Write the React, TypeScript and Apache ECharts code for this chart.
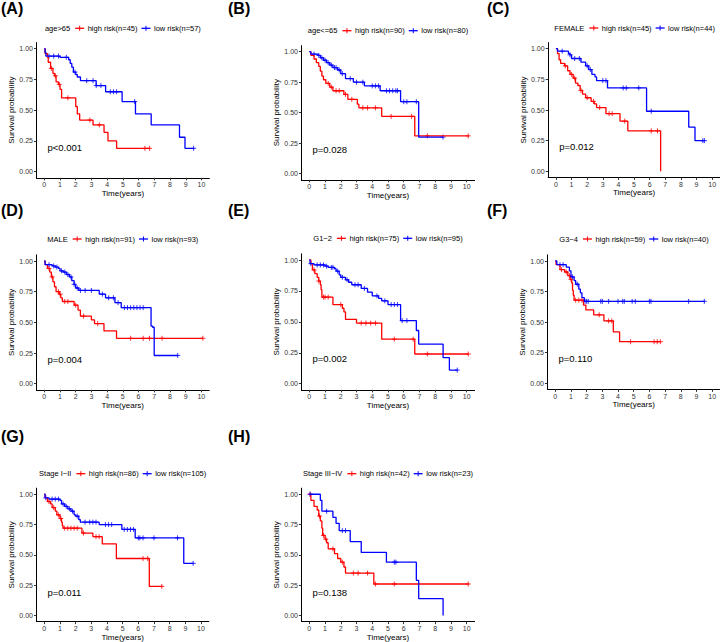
import React, { useEffect, useRef } from "react";
import * as echarts from "echarts";

type Step = [number, number];

// ---------- text ----------
const panelTags = ["(A)", "(B)", "(C)", "(D)", "(E)", "(F)", "(G)", "(H)"];
const groupTitles = ["age>65", "age<=65", "FEMALE", "MALE", "G1−2", "G3−4", "Stage I−II", "Stage III−IV"];
const highLabels = ["high risk(n=45)", "high risk(n=90)", "high risk(n=45)", "high risk(n=91)", "high risk(n=75)", "high risk(n=59)", "high risk(n=86)", "high risk(n=42)"];
const lowLabels = ["low risk(n=57)", "low risk(n=80)", "low risk(n=44)", "low risk(n=93)", "low risk(n=95)", "low risk(n=40)", "low risk(n=105)", "low risk(n=23)"];
const pValues = ["p<0.001", "p=0.028", "p=0.012", "p=0.004", "p=0.002", "p=0.110", "p=0.011", "p=0.138"];
const xTicks = [0, 1, 2, 3, 4, 5, 6, 7, 8, 9, 10];
const yTicks = [0, 0.25, 0.5, 0.75, 1];

// ---------- survival steps [time, survival after event] ----------
const A_high: Step[] = [[0, 1], [0.05, 0.96], [0.2, 0.93], [0.25, 0.89], [0.4, 0.84], [0.55, 0.8], [0.65, 0.78], [0.75, 0.73], [0.9, 0.71], [1.0, 0.67], [1.1, 0.6], [2.0, 0.53], [2.1, 0.47], [2.25, 0.42], [3.1, 0.38], [3.8, 0.32], [4.05, 0.25], [4.6, 0.19]];
const A_low: Step[] = [[0, 1], [0.05, 0.97], [0.1, 0.94], [1.0, 0.93], [1.55, 0.91], [1.65, 0.88], [1.75, 0.85], [1.85, 0.81], [2.0, 0.79], [2.1, 0.77], [2.3, 0.74], [3.3, 0.7], [3.9, 0.65], [4.95, 0.57], [5.8, 0.47], [6.8, 0.38], [8.6, 0.28], [8.95, 0.19]];
const B_high: Step[] = [[0, 1], [0.1, 0.97], [0.3, 0.94], [0.45, 0.91], [0.6, 0.88], [0.7, 0.84], [0.8, 0.8], [0.9, 0.77], [1.05, 0.74], [1.3, 0.71], [1.5, 0.68], [2.2, 0.65], [2.45, 0.61], [3.05, 0.57], [3.15, 0.54], [4.6, 0.47], [6.7, 0.31]];
const B_low: Step[] = [[0, 1], [0.1, 0.98], [0.55, 0.97], [0.7, 0.95], [0.9, 0.93], [1.1, 0.91], [1.3, 0.89], [1.5, 0.87], [1.8, 0.85], [2.0, 0.82], [2.3, 0.78], [2.8, 0.75], [3.5, 0.72], [4.5, 0.68], [5.8, 0.59], [6.95, 0.3]];
const C_high: Step[] = [[0, 1], [0.1, 0.96], [0.2, 0.91], [0.3, 0.88], [0.55, 0.86], [0.75, 0.82], [0.9, 0.79], [1.1, 0.76], [1.25, 0.72], [1.4, 0.7], [1.55, 0.66], [1.7, 0.63], [1.9, 0.6], [2.25, 0.57], [2.45, 0.55], [2.6, 0.52], [3.2, 0.47], [4.1, 0.41], [4.6, 0.33], [6.7, 0]];
const C_low: Step[] = [[0, 1], [0.1, 0.98], [0.8, 0.96], [0.9, 0.95], [1.0, 0.92], [1.6, 0.89], [1.9, 0.86], [2.1, 0.83], [2.3, 0.79], [2.5, 0.77], [2.6, 0.74], [3.3, 0.68], [5.8, 0.49], [8.5, 0.36], [8.9, 0.25]];
const D_high: Step[] = [[0, 1], [0.05, 0.97], [0.2, 0.94], [0.35, 0.91], [0.45, 0.87], [0.55, 0.83], [0.65, 0.79], [0.75, 0.75], [0.95, 0.73], [1.05, 0.7], [1.15, 0.67], [1.9, 0.64], [2.15, 0.6], [2.3, 0.55], [3.0, 0.52], [3.2, 0.49], [3.8, 0.43], [4.6, 0.37]];
const D_low: Step[] = [[0, 1], [0.05, 0.97], [0.5, 0.96], [0.7, 0.95], [0.9, 0.94], [1.0, 0.92], [1.2, 0.91], [1.4, 0.89], [1.6, 0.87], [1.75, 0.84], [1.9, 0.81], [2.0, 0.78], [2.2, 0.76], [3.5, 0.73], [3.9, 0.7], [4.5, 0.66], [4.9, 0.62], [6.8, 0.47], [6.9, 0.46], [7.0, 0.23]];
const E_high: Step[] = [[0, 1], [0.1, 0.97], [0.2, 0.92], [0.35, 0.89], [0.5, 0.86], [0.6, 0.83], [0.7, 0.8], [0.75, 0.76], [0.8, 0.7], [1.5, 0.64], [2.1, 0.61], [2.2, 0.58], [2.3, 0.52], [3.0, 0.49], [4.6, 0.36], [6.7, 0.24]];
const E_low: Step[] = [[0, 1], [0.05, 0.97], [0.3, 0.96], [1.0, 0.95], [1.2, 0.94], [1.6, 0.93], [1.7, 0.91], [1.9, 0.88], [2.0, 0.86], [2.3, 0.84], [2.5, 0.82], [2.7, 0.8], [3.3, 0.77], [3.7, 0.74], [4.0, 0.71], [4.4, 0.69], [4.6, 0.67], [5.0, 0.64], [5.8, 0.51], [6.8, 0.43], [6.95, 0.32], [8.5, 0.21], [8.9, 0.11]];
const F_high: Step[] = [[0, 1], [0.05, 0.97], [0.3, 0.93], [0.6, 0.91], [0.8, 0.88], [0.95, 0.85], [1.05, 0.82], [1.1, 0.76], [1.15, 0.72], [1.2, 0.68], [1.8, 0.64], [1.95, 0.6], [2.45, 0.56], [3.1, 0.51], [3.7, 0.42], [4.1, 0.34]];
const F_low: Step[] = [[0, 1], [0.1, 0.97], [0.7, 0.95], [0.9, 0.92], [1.0, 0.87], [1.2, 0.84], [1.3, 0.81], [1.5, 0.77], [1.6, 0.74], [1.7, 0.7], [1.85, 0.67]];
const G_high: Step[] = [[0, 1], [0.05, 0.97], [0.2, 0.94], [0.4, 0.92], [0.5, 0.89], [0.7, 0.86], [0.8, 0.83], [1.0, 0.8], [1.1, 0.77], [1.15, 0.74], [1.2, 0.72], [2.4, 0.68], [3.1, 0.65], [3.7, 0.59], [4.6, 0.47], [6.7, 0.24]];
const G_low: Step[] = [[0, 1], [0.05, 0.97], [0.3, 0.96], [1.0, 0.95], [1.1, 0.92], [1.3, 0.9], [1.5, 0.88], [1.7, 0.86], [1.9, 0.83], [2.0, 0.82], [2.2, 0.79], [2.3, 0.77], [3.5, 0.75], [4.95, 0.71], [5.8, 0.64], [8.9, 0.43]];
const H_high: Step[] = [[0, 1], [0.1, 0.95], [0.3, 0.9], [0.5, 0.87], [0.6, 0.82], [0.7, 0.78], [0.8, 0.72], [0.85, 0.66], [1.0, 0.63], [1.1, 0.6], [1.2, 0.55], [1.6, 0.51], [1.8, 0.47], [2.0, 0.44], [2.2, 0.4], [2.3, 0.35], [4.1, 0.26]];
const H_low: Step[] = [[0, 1], [0.7, 0.95], [0.8, 0.86], [1.5, 0.81], [1.7, 0.76], [1.9, 0.7], [2.6, 0.61], [3.3, 0.52], [4.9, 0.44], [6.8, 0.29], [6.95, 0.14], [8.5, 0]];

// follow-up end times
const highEnds = [6.7, 10.1, 6.7, 10.1, 10.1, 6.7, 7.5, 10.1];
const lowEnds = [9.5, 8.5, 9.5, 8.5, 9.4, 9.5, 9.5, 8.5];

// censoring times
const A_highCens = [0.45, 0.7, 0.95, 1.5, 2.9, 3.5, 6.4, 6.7];
const A_lowCens = [0.3, 0.6, 0.9, 1.4, 1.95, 2.7, 3.1, 3.3, 3.6, 4.2, 4.4, 4.6, 5.75, 9.5];
const B_highCens = [1.2, 1.4, 1.7, 1.9, 2.3, 2.7, 3.4, 3.7, 4.2, 5.2, 6.5, 7.5, 10.1];
const B_lowCens = [0.3, 0.6, 0.8, 1.0, 1.2, 1.4, 1.6, 1.7, 1.9, 2.1, 2.6, 3.0, 3.4, 4.0, 4.2, 4.4, 4.9, 5.1, 5.3, 5.5, 5.6, 6.0, 6.2, 6.8, 8.5];
const C_highCens = [0.6, 1.0, 1.2, 1.6, 2.0, 2.4, 2.8, 3.4, 3.6, 4.4, 6.1, 6.5];
const C_lowCens = [0.4, 0.9, 1.2, 1.5, 2.0, 2.2, 3.0, 3.2, 4.3, 4.5, 5.3, 6.1, 9.4, 9.5];
const D_highCens = [0.3, 0.5, 0.9, 1.0, 1.3, 1.5, 2.0, 2.5, 3.4, 5.5, 6.3, 6.7, 7.5, 10.1];
const D_lowCens = [0.3, 0.6, 0.8, 1.1, 1.3, 1.5, 1.7, 1.9, 2.1, 2.3, 2.6, 3.0, 3.7, 4.1, 4.4, 4.7, 5.1, 5.3, 5.5, 5.7, 5.9, 6.1, 6.3, 8.5];
const E_highCens = [0.3, 0.6, 0.9, 1.0, 1.2, 2.0, 3.3, 3.6, 3.9, 4.2, 5.4, 6.6, 7.5, 10.1];
const E_lowCens = [0.1, 0.5, 0.7, 0.9, 1.1, 1.4, 1.5, 1.8, 2.1, 2.4, 2.9, 3.1, 3.5, 4.3, 4.8, 5.2, 5.4, 5.6, 5.9, 6.2, 9.4];
const F_highCens = [0.4, 0.7, 0.9, 1.0, 1.3, 1.5, 1.7, 2.8, 3.4, 3.6, 4.8, 6.3, 6.5, 6.7];
const F_lowCens = [0.3, 0.5, 1.1, 1.4, 1.9, 2.0, 2.1, 2.9, 3.0, 3.4, 4.0, 4.3, 4.4, 4.9, 5.1, 6.0, 6.1, 8.5, 9.5];
const G_highCens = [0.3, 0.6, 0.9, 1.05, 1.3, 1.5, 1.7, 1.9, 2.1, 2.5, 3.3, 3.5, 6.3, 6.6, 7.5];
const G_lowCens = [0.1, 0.5, 0.7, 0.9, 1.2, 1.4, 1.6, 1.8, 2.1, 2.6, 2.9, 3.1, 3.3, 3.9, 4.1, 4.3, 5.1, 5.3, 5.5, 5.7, 6.0, 6.1, 6.3, 7.0, 8.5, 9.5];
const H_highCens = [0.05, 0.65, 0.9, 1.05, 1.5, 2.1, 2.8, 3.1, 3.7, 4.2, 5.4, 10.1];
const H_lowCens = [0.05, 1.1, 2.1, 2.3, 5.4, 5.5];

const highSteps = [A_high, B_high, C_high, D_high, E_high, F_high, G_high, H_high];
const lowSteps = [A_low, B_low, C_low, D_low, E_low, F_low, G_low, H_low];
const highCens = [A_highCens, B_highCens, C_highCens, D_highCens, E_highCens, F_highCens, G_highCens, H_highCens];
const lowCens = [A_lowCens, B_lowCens, C_lowCens, D_lowCens, E_lowCens, F_lowCens, G_lowCens, H_lowCens];

// ---------- layout (pixel positions of x=0, x=10, y=1, y=0 per panel) ----------
const layout = [
  { x0: 44.3, x10: 201.5, y1: 48.7, y0: 171.7, legY: 28.3 },
  { x0: 309.3, x10: 466.7, y1: 51.7, y0: 173.7, legY: 30.7 },
  { x0: 556, x10: 713.3, y1: 48.7, y0: 171.3, legY: 28 },
  { x0: 44.3, x10: 201.3, y1: 261, y0: 383.7, legY: 239 },
  { x0: 309.3, x10: 466.7, y1: 260, y0: 383.7, legY: 238.3 },
  { x0: 555.3, x10: 712.7, y1: 261, y0: 383.3, legY: 239 },
  { x0: 44.3, x10: 201, y1: 494.3, y0: 617, legY: 473.7 },
  { x0: 309.3, x10: 466.7, y1: 494.3, y0: 617, legY: 473.7 },
];
const tagPos: [number, number][] = [[1, 8.5], [228, 8.5], [487, 8.5], [1, 210], [228, 210], [487, 210], [1, 436.7], [228, 436.7]];

const RED = "#FF0000";
const BLUE = "#0000FF";
const FONT = "'Liberation Sans', Arial, Helvetica, sans-serif";
const PLUS = "path://M2.5 0 L2.5 5 M0 2.5 L5 2.5";
const LEG_FS = 7.5;

function survAt(steps: Step[], t: number): number {
  let s = 1;
  for (const [time, v] of steps) {
    if (time <= t) s = v;
  }
  return s;
}

function buildOption() {
  const canvas = document.createElement("canvas");
  const ctx = canvas.getContext("2d")!;
  ctx.font = `${LEG_FS}px ${FONT}`;
  const tw = (s: string) => ctx.measureText(s).width;

  const grid: any[] = [];
  const xAxis: any[] = [];
  const yAxis: any[] = [];
  const series: any[] = [];
  const graphic: any[] = [];

  layout.forEach((L, i) => {
    const sx = (L.x10 - L.x0) / 10;
    const sy = L.y0 - L.y1;
    grid.push({
      left: L.x0 - 0.5 * sx,
      top: L.y1 - 0.05 * sy,
      width: 11 * sx,
      height: 1.1 * sy,
      containLabel: false,
    });
    xAxis.push({
      type: "value",
      gridIndex: i,
      min: -0.5,
      max: 10.5,
      axisLine: { show: true, onZero: false, lineStyle: { color: "#000", width: 1 } },
      axisTick: { show: true, customValues: xTicks, length: 2.5, lineStyle: { color: "#333" } },
      axisLabel: { customValues: xTicks, fontSize: 7, color: "#333", margin: 3.5, fontFamily: FONT, fontWeight: "normal" },
      splitLine: { show: false },
      name: "Time(years)",
      nameLocation: "middle",
      nameGap: 11,
      nameTextStyle: { fontSize: 8, color: "#000", fontFamily: FONT, fontWeight: "normal" },
    });
    yAxis.push({
      type: "value",
      gridIndex: i,
      min: -0.05,
      max: 1.05,
      axisLine: { show: true, onZero: false, lineStyle: { color: "#000", width: 1 } },
      axisTick: { show: true, customValues: yTicks, length: 2.5, lineStyle: { color: "#333" } },
      axisLabel: {
        customValues: yTicks,
        fontSize: 7,
        color: "#333",
        margin: 3.5,
        fontFamily: FONT,
        fontWeight: "normal",
        formatter: (v: number) => Number(v).toFixed(2),
      },
      splitLine: { show: false },
      name: "Survival probability",
      nameLocation: "middle",
      nameGap: 17,
      nameTextStyle: { fontSize: 8, color: "#000", fontFamily: FONT, fontWeight: "normal" },
    });

    const curves: [Step[], number, number[], string][] = [
      [highSteps[i], highEnds[i], highCens[i], RED],
      [lowSteps[i], lowEnds[i], lowCens[i], BLUE],
    ];
    curves.forEach(([steps, end, cens, color]) => {
      const last = steps[steps.length - 1];
      const data = steps.map((p) => [p[0], p[1]]);
      if (end > last[0]) data.push([end, last[1]]);
      series.push({
        type: "line",
        xAxisIndex: i,
        yAxisIndex: i,
        step: "end",
        data,
        symbol: "none",
        silent: true,
        lineStyle: { color, width: 1.3 },
        itemStyle: { color },
      });
      series.push({
        type: "scatter",
        xAxisIndex: i,
        yAxisIndex: i,
        data: cens.map((t) => [t, survAt(steps, t)]),
        symbol: PLUS,
        symbolSize: 5,
        silent: true,
        itemStyle: { color: "none", borderColor: color, borderWidth: 1 },
      });
    });

    // p value
    graphic.push({
      type: "text",
      x: L.x0 + 0.2 * sx,
      y: L.y0 - 0.2 * sy,
      style: { text: pValues[i], fontSize: 9.5, fontFamily: FONT, fill: "#000", align: "left", verticalAlign: "middle" },
      silent: true,
    });

    // legend
    const gap1 = 5, mk = 9, gap2 = 3.5, gap3 = 4;
    const wT = tw(groupTitles[i]);
    const wH = tw(highLabels[i]);
    const wL = tw(lowLabels[i]);
    const total = wT + gap1 + mk + gap2 + wH + gap3 + mk + gap2 + wL;
    let cx = (L.x0 + L.x10) / 2 - total / 2;
    const ly = L.legY;
    const txt = (s: string, x: number) => ({
      type: "text",
      x,
      y: ly,
      silent: true,
      style: { text: s, fontSize: LEG_FS, fontFamily: FONT, fill: "#000", align: "left", verticalAlign: "middle" },
    });
    const marker = (x: number, color: string) => [
      { type: "line", silent: true, shape: { x1: x, y1: ly, x2: x + mk, y2: ly }, style: { stroke: color, lineWidth: 1.3 } },
      { type: "line", silent: true, shape: { x1: x + mk / 2, y1: ly - 2.5, x2: x + mk / 2, y2: ly + 2.5 }, style: { stroke: color, lineWidth: 1 } },
    ];
    graphic.push(txt(groupTitles[i], cx));
    cx += wT + gap1;
    graphic.push(...marker(cx, RED));
    cx += mk + gap2;
    graphic.push(txt(highLabels[i], cx));
    cx += wH + gap3;
    graphic.push(...marker(cx, BLUE));
    cx += mk + gap2;
    graphic.push(txt(lowLabels[i], cx));

    // panel tag
    graphic.push({
      type: "text",
      x: tagPos[i][0],
      y: tagPos[i][1],
      silent: true,
      style: { text: panelTags[i], fontSize: 16, fontWeight: "bold", fontFamily: FONT, fill: "#000", align: "left", verticalAlign: "middle" },
    });
  });

  return {
    animation: false,
    backgroundColor: "#ffffff",
    textStyle: { fontFamily: FONT },
    grid,
    xAxis,
    yAxis,
    series,
    graphic,
  };
}

export default function App() {
  const ref = useRef<HTMLDivElement>(null);
  useEffect(() => {
    document.body.style.margin = "0";
    if (!ref.current) return;
    const chart = echarts.init(ref.current, undefined, { renderer: "svg" });
    chart.setOption(buildOption() as any);
    return () => chart.dispose();
  }, []);
  return <div ref={ref} style={{ width: 720, height: 642 }} />;
}
